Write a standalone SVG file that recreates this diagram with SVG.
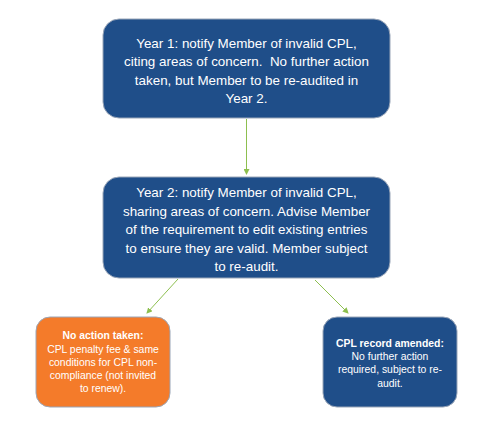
<svg xmlns="http://www.w3.org/2000/svg" width="500" height="435" viewBox="0 0 500 435">
<style>
.b{fill:#1F4E89;stroke:#9aa6b8;stroke-width:1}
.o{fill:#F47B2A;stroke:#9aa6b8;stroke-width:1}
.t{fill:#ffffff;font-family:"Liberation Sans",Arial,sans-serif;text-anchor:middle}
.big{font-size:13.4px}
.sm{font-size:10.4px}
.bold{font-weight:bold}
.c{stroke:#8DBF4F;stroke-width:1;fill:none;marker-end:url(#ah)}
</style>
<defs>
<marker id="ah" markerWidth="6" markerHeight="6" refX="5" refY="3" orient="auto" markerUnits="userSpaceOnUse">
<path d="M0,0 L6,3 L0,6 Z" fill="#8DBF4F"/>
</marker>
</defs>
<rect width="500" height="435" fill="#ffffff"/>
<g id="connectors">
<line class="c" x1="246.5" y1="119" x2="246.5" y2="174"/>
<line class="c" x1="178" y1="279" x2="147" y2="313"/>
<line class="c" x1="315" y1="280" x2="348" y2="313"/>
</g>
<g id="year1">
<rect class="b" x="103" y="19" width="287" height="99" rx="16"/>
<text class="t big" x="246.5" y="47.5">Year 1: notify Member of invalid CPL,</text>
<text class="t big" x="246.5" y="66" xml:space="preserve">citing areas of concern.  No further action</text>
<text class="t big" x="246.5" y="84.5">taken, but Member to be re-audited in</text>
<text class="t big" x="246.5" y="103">Year 2.</text>
</g>
<g id="year2">
<rect class="b" x="103" y="177" width="287" height="101" rx="16"/>
<text class="t big" x="246.5" y="197">Year 2: notify Member of invalid CPL,</text>
<text class="t big" x="246.5" y="215.5">sharing areas of concern. Advise Member</text>
<text class="t big" x="246.5" y="234">of the requirement to edit existing entries</text>
<text class="t big" x="246.5" y="252.5">to ensure they are valid. Member subject</text>
<text class="t big" x="246.5" y="271">to re-audit.</text>
</g>
<g id="noaction">
<rect class="o" x="36" y="317" width="134" height="90" rx="14"/>
<text class="t sm bold" x="103" y="339">No action taken:</text>
<text class="t sm" x="103" y="352.5">CPL penalty fee &amp; same</text>
<text class="t sm" x="103" y="366">conditions for CPL non-</text>
<text class="t sm" x="103" y="379">compliance (not invited</text>
<text class="t sm" x="103" y="392">to renew).</text>
</g>
<g id="amended">
<rect class="b" x="323" y="317" width="134" height="90" rx="14"/>
<text class="t sm bold" x="390" y="346.5">CPL record amended:</text>
<text class="t sm" x="390" y="360">No further action</text>
<text class="t sm" x="390" y="373">required, subject to re-</text>
<text class="t sm" x="390" y="386.5">audit.</text>
</g>
</svg>
